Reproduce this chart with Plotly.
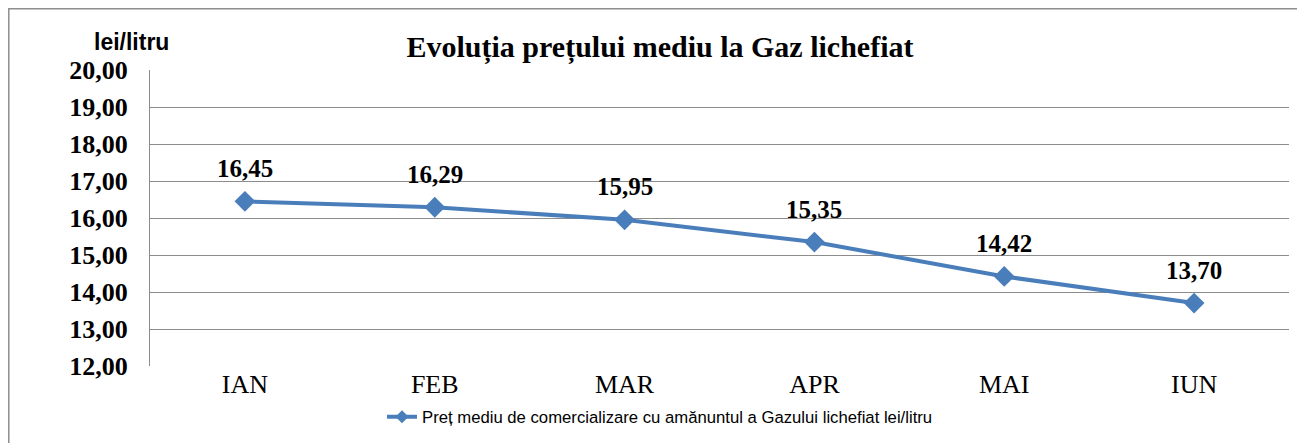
import plotly.graph_objects as go

months = ["IAN", "FEB", "MAR", "APR", "MAI", "IUN"]
prices = [16.45, 16.29, 15.95, 15.35, 14.42, 13.70]
series_name = "Preț mediu de comercializare cu amănuntul a Gazului lichefiat lei/litru"
title_text = "Evoluția prețului mediu la Gaz lichefiat"
y_label = "lei/litru"

color = "#4A7EBB"
grid = "#8C8C8C"
serif = "Liberation Serif, Times New Roman, serif"
sans = "Liberation Sans, Arial, sans-serif"

FW, FH = 1297, 435          # page has an 8px body margin
L, T, W, H = 142, 62, 1139, 296


def px_x(x):
    return (x - L) / W


def px_y(y):
    return 1 - (y - T) / H


fig = go.Figure()
fig.add_trace(go.Scatter(
    x=months, y=prices, mode="lines+markers", name=series_name,
    line=dict(color=color, width=4),
    marker=dict(symbol="diamond", size=16, color=color),
    hoverinfo="skip", showlegend=False,
))
fig.add_trace(go.Scatter(
    x=[None], y=[None], mode="lines+markers", name=series_name,
    line=dict(color=color, width=4),
    marker=dict(symbol="diamond", size=10, color=color),
    hoverinfo="skip", showlegend=True,
))

for m, v in zip(months, prices):
    fig.add_annotation(
        x=m, y=v, text=f"{v:.2f}".replace(".", ","), showarrow=False,
        yshift=33, font=dict(family=serif, size=25, color="black", weight="bold"),
    )

fig.add_annotation(
    xref="paper", yref="paper", x=px_x(123), y=px_y(34), text=y_label, showarrow=False,
    xanchor="center", yanchor="middle",
    font=dict(family=sans, size=23, color="black", weight="bold"),
)

fig.add_shape(type="rect", xref="paper", yref="paper",
              x0=px_x(0.8), x1=px_x(1320), y0=px_y(460), y1=px_y(0.8),
              line=dict(color="#8E8E8E", width=1.5), layer="below")

fig.update_layout(
    width=FW, height=FH,
    margin=dict(l=L, r=FW - L - W, t=T, b=FH - T - H, autoexpand=False),
    paper_bgcolor="white", plot_bgcolor="white",
    separators=",.",
    title=dict(text=title_text, x=652 / FW, xref="container", xanchor="center",
               y=1 - 38 / FH, yref="container", yanchor="middle",
               font=dict(family=serif, size=30, color="black", weight="bold")),
    xaxis=dict(range=[-0.5, 5.5], showgrid=False, showline=False, ticks="",
               automargin=False,
               tickfont=dict(family=serif, size=26, color="black"),
               ticklabelstandoff=0),
    yaxis=dict(range=[12, 20], dtick=1, tickformat=".2f", showgrid=True,
               automargin=False,
               gridcolor=grid, gridwidth=1.3, showline=True, linecolor=grid,
               linewidth=1.3, zeroline=False, ticks="",
               tickfont=dict(family=serif, size=26, color="black", weight="bold"),
               ticklabelstandoff=16),
    showlegend=True,
    legend=dict(orientation="h", x=652 / FW, xref="container", xanchor="center",
                y=1 - 409 / FH, yref="container",
                yanchor="middle", font=dict(family=sans, size=16.7, color="black"),
                bgcolor="rgba(0,0,0,0)", itemwidth=30),
)

fig.write_html("out.html")
